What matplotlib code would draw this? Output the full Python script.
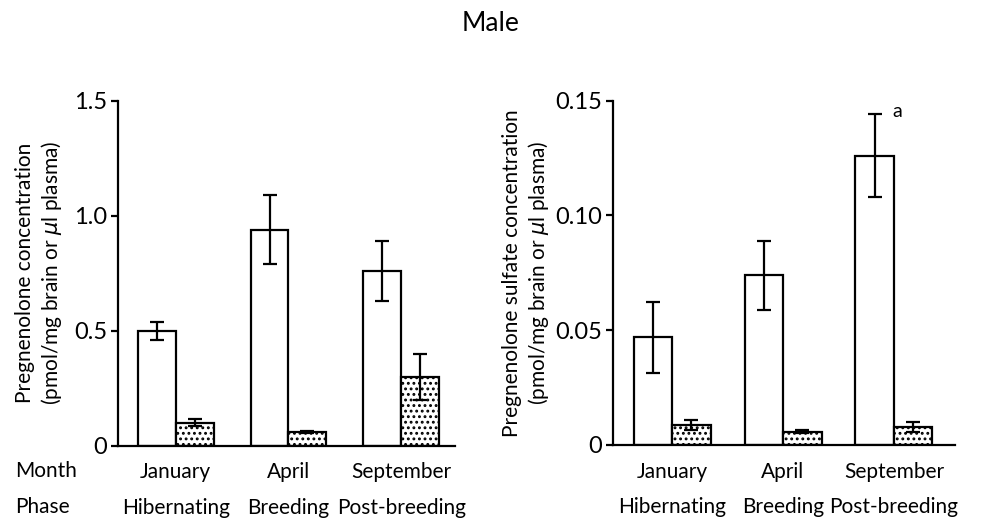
import matplotlib

matplotlib.use("Agg")
import matplotlib.pyplot as plt  # noqa: E402
import matplotlib.transforms as mtransforms  # noqa: E402
import numpy as np  # noqa: E402

plt.rcParams["font.family"] = ["Lato", "DejaVu Sans"]
plt.rcParams["hatch.linewidth"] = 1.3

months = ["January", "April", "September"]
phases = ["Hibernating", "Breeding", "Post-breeding"]

# pregnenolone: brain (open) and plasma (dotted)
preg_brain = [0.50, 0.94, 0.76]
preg_brain_err = [0.04, 0.15, 0.13]
preg_plasma = [0.10, 0.06, 0.30]
preg_plasma_err = [0.015, 0.006, 0.10]

# pregnenolone sulfate
sulf_brain = [0.047, 0.074, 0.126]
sulf_brain_err = [0.0155, 0.015, 0.018]
sulf_plasma = [0.0087, 0.0058, 0.008]
sulf_plasma_err = [0.002, 0.0007, 0.0022]

preg_ticks = [0, 0.5, 1.0, 1.5]
preg_ticklabels = ["0", "0.5", "1.0", "1.5"]
sulf_ticks = [0, 0.05, 0.10, 0.15]
sulf_ticklabels = ["0", "0.05", "0.10", "0.15"]


def draw_panel(ax, brain, brain_err, plasma, plasma_err, width, ylim,
               ticks, ticklabels, ylabel, xlim, labelpad):
    x = np.arange(len(months))
    ax.bar(x - width / 2, brain, width, color="white", edgecolor="black", linewidth=1.6,
           zorder=2)
    ax.bar(x + width / 2, plasma, width, color="white", edgecolor="black", linewidth=1.6,
           hatch="...", zorder=2)
    ax.errorbar(x - width / 2, brain, yerr=brain_err, fmt="none", ecolor="black",
                elinewidth=1.6, capsize=5, capthick=1.6, zorder=3)
    ax.errorbar(x + width / 2, plasma, yerr=plasma_err, fmt="none", ecolor="black",
                elinewidth=1.6, capsize=5, capthick=1.6, zorder=3)
    ax.set_ylim(*ylim)
    ax.set_xlim(*xlim)
    ax.set_yticks(ticks)
    ax.set_yticklabels(ticklabels)
    ax.set_xticks(x)
    ax.set_xticklabels(months)
    ax.tick_params(axis="x", length=0, pad=12, labelsize=15)
    ax.tick_params(axis="y", direction="out", length=5, width=1.6, pad=3, labelsize=17)
    for side in ["top", "right"]:
        ax.spines[side].set_visible(False)
    for side in ["left", "bottom"]:
        ax.spines[side].set_linewidth(1.6)
    ax.set_ylabel(ylabel, fontsize=15, labelpad=labelpad, linespacing=1.2)
    trans = mtransforms.blended_transform_factory(ax.transData, ax.transAxes)
    for xi, ph in zip(x, phases):
        ax.text(xi, -0.18, ph, transform=trans, ha="center", va="center", fontsize=15)
    return x


fig = plt.figure(figsize=(9.81, 5.19), dpi=100)
ax1 = fig.add_axes([0.1203, 0.1412, 0.3435, 0.6647])
ax2 = fig.add_axes([0.6252, 0.1426, 0.3483, 0.6634])

draw_panel(ax1, preg_brain, preg_brain_err, preg_plasma, preg_plasma_err, 0.336,
           (0, 1.5), preg_ticks, preg_ticklabels,
           "Pregnenolone concentration\n(pmol/mg brain or $\\mu$l plasma)", (-0.513, 2.478), 7)
x2 = draw_panel(ax2, sulf_brain, sulf_brain_err, sulf_plasma, sulf_plasma_err, 0.347,
                (0, 0.15), sulf_ticks, sulf_ticklabels,
                "Pregnenolone sulfate concentration\n(pmol/mg brain or $\\mu$l plasma)",
                (-0.53, 2.55), 3)

# significance mark
ax2.text(x2[2] - 0.347 / 2 + 0.16, sulf_brain[2] + sulf_brain_err[2] + 0.0015, "a",
         ha="left", va="center", fontsize=14)

fig.text(0.015, 1 - 471 / 519, "Month", ha="left", va="center", fontsize=15)
fig.text(0.015, 1 - 507 / 519, "Phase", ha="left", va="center", fontsize=15)
fig.text(0.5, 0.955, "Male", ha="center", va="center", fontsize=19)

fig.savefig("out.png", dpi=100)
